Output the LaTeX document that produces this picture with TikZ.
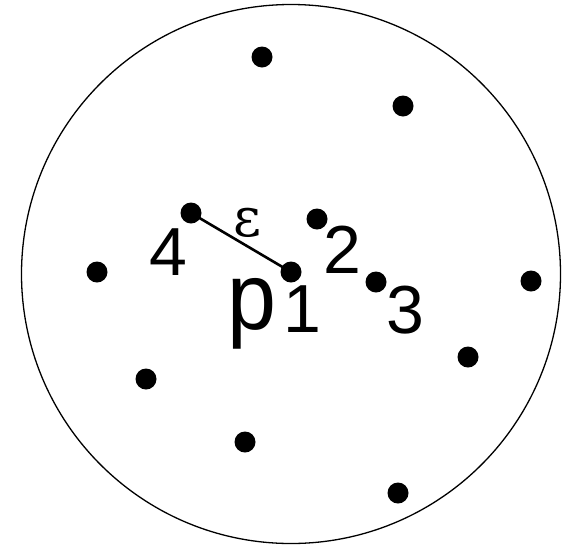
\documentclass[tikz,border=0pt]{standalone}
\usepackage{fontspec}
\setmainfont{Liberation Sans}
\newfontfamily\grfont{DejaVu Serif}
\begin{document}
\begin{tikzpicture}[x=1pt,y=-1pt,
  dot/.style={circle,fill=black,inner sep=0pt,minimum size=21pt},
  lbl/.style={inner sep=0pt,font=\fontsize{68}{68}\selectfont},
  plbl/.style={inner sep=0pt,font=\fontsize{88}{88}\selectfont,yscale=1.08}]
\useasboundingbox (0,0) rectangle (570,547);
\node[circle,draw,line width=1.3pt,minimum size=539pt,inner sep=0pt] (disk) at (291,274) {};
\node[dot] (d1) at (262,57) {};
\node[dot] (d2) at (403,106) {};
\node[dot] (n4) at (191,213) {};
\node[dot] (n2) at (317,219) {};
\node[dot] (d5) at (97,272) {};
\node[dot] (p1) at (291,272) {};
\node[dot] (n3) at (376,282) {};
\node[dot] (d8) at (531,281) {};
\node[dot] (d9) at (468,357) {};
\node[dot] (d10) at (146,379) {};
\node[dot] (d11) at (245,442) {};
\node[dot] (d12) at (398,493) {};
\draw[line width=2.6pt] (n4.center) -- (p1.center);
\node[lbl] (t4) at (168,252) {4};
\node[lbl] (t2) at (342,250) {2};
\node[lbl] (t3) at (405,310) {3};
\node[plbl] (tp) at (252,314) {p};
\node[lbl] (t1) at (302,309) {1};
\node[inner sep=0pt,font=\grfont\fontsize{54}{54}\selectfont] (teps) at (247,223) {ε};
\end{tikzpicture}
\end{document}
